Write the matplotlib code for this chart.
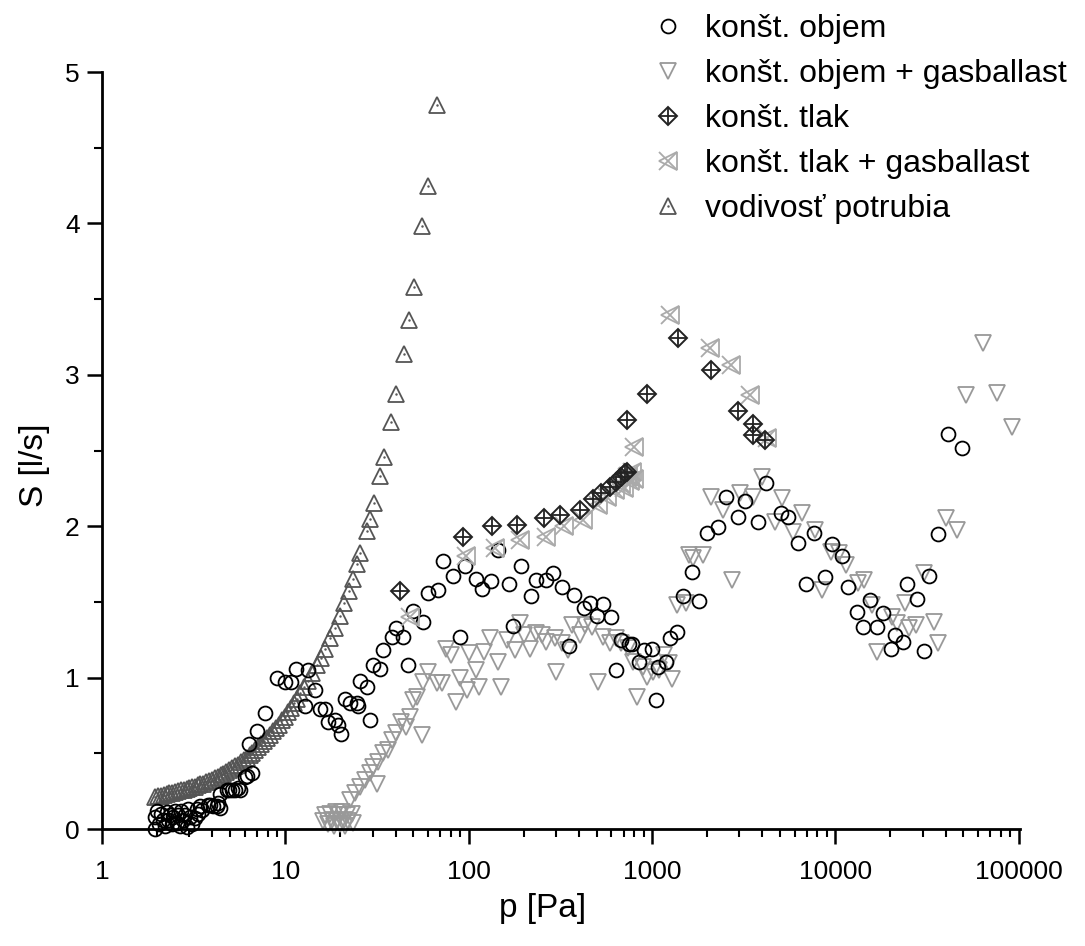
import numpy as np
import matplotlib
matplotlib.use('Agg')
import matplotlib.pyplot as plt
from matplotlib.ticker import FixedLocator, FixedFormatter, LogLocator, NullFormatter, MultipleLocator

plt.rcParams['font.family'] = ['Liberation Sans', 'DejaVu Sans']

# konšt. objem (circles)
p_obj = [1.95, 1.95, 2.0, 2.05, 2.1, 2.16, 2.2, 2.25, 2.3, 2.35, 2.4, 2.45, 2.5, 2.55, 2.6,
         2.66, 2.7, 2.78, 2.85, 2.9, 2.95, 3.02, 3.1, 3.22, 3.3, 3.35, 3.42, 3.5, 3.8, 3.88,
         4.04, 4.22, 4.3, 4.4, 4.4, 4.78, 4.9, 5.1, 5.3, 5.55, 5.66, 6.02, 6.15, 6.35, 6.55,
         7.05, 7.75, 8.96, 9.97, 10.8, 11.5, 12.8, 13.3, 14.6, 15.5, 16.5, 17.1, 18.7, 19.4,
         20.1, 21.1, 22.5, 24.5, 25.0, 25.5, 27.8, 29.0, 30.1, 32.8, 34.2, 38.0, 40.4, 44.0,
         46.9, 49.9, 56.5, 60.3, 68.2, 72.7, 82.4, 89.6, 95, 110, 119, 133, 145, 166, 175,
         193, 218, 233, 265, 289, 325, 353, 375, 424, 458, 502, 540, 600, 636, 681, 749,
         780, 855, 910, 1000, 1050, 1080, 1190, 1250, 1370, 1470, 1660, 1800, 1990, 2300,
         2530, 2960, 3230, 3800, 4200, 5050, 5500, 6290, 6940, 7700, 8820, 9600, 10900,
         11800, 13100, 14200, 15500, 17000, 18300, 20200, 21300, 23300, 24600, 28000, 30600,
         32300, 36400, 41300, 49200]
S_obj = [0.00, 0.08, 0.12, 0.03, 0.10, 0.06, 0.02, 0.11, 0.06, 0.09, 0.03, 0.08, 0.12, 0.04, 0.09,
         0.02, 0.12, 0.06, 0.09, 0.015, 0.13, 0.08, 0.03, 0.07, 0.13, 0.10, 0.15, 0.125, 0.16, 0.16,
         0.15, 0.15, 0.17, 0.14, 0.23, 0.26, 0.26, 0.26, 0.26, 0.27, 0.26, 0.345, 0.35, 0.56, 0.37,
         0.65, 0.764, 1.0, 0.97, 0.97, 1.06, 0.81, 1.05, 0.92, 0.79, 0.79, 0.71, 0.72, 0.69,
         0.63, 0.86, 0.83, 0.83, 0.81, 0.98, 0.94, 0.72, 1.08, 1.06, 1.18, 1.27, 1.33, 1.27,
         1.08, 1.44, 1.37, 1.56, 1.58, 1.77, 1.67, 1.27, 1.74, 1.65, 1.585, 1.64, 1.84, 1.62, 1.34,
         1.74, 1.54, 1.645, 1.645, 1.69, 1.6, 1.21, 1.546, 1.46, 1.495, 1.41, 1.486, 1.40, 1.05, 1.25, 1.22,
         1.22, 1.105, 1.18, 1.187, 0.852, 1.072, 1.1, 1.26, 1.30, 1.54, 1.70, 1.508, 1.953, 1.997,
         2.195, 2.063, 2.166, 2.03, 2.283, 2.085, 2.063, 1.887, 1.618, 1.957, 1.667, 1.88, 1.805,
         1.596, 1.435, 1.332, 1.513, 1.336, 1.425, 1.189, 1.281, 1.237, 1.618, 1.519, 1.176,
         1.671, 1.947, 2.607, 2.519]

# konšt. objem + gasballast (down triangles)
p_obj_gb = [16.0, 16.5, 17.0, 17.5, 18.0, 18.4, 18.8, 19.2, 19.6, 20.0, 20.4, 20.8, 21.2, 21.6,
            22.0, 22.5, 23.0, 23.4, 24.0, 25.5, 27.1, 29, 30.1, 31.5, 32, 34.2, 36.4, 38, 40.4,
            43, 45.8, 47.6, 49.9, 52, 55.4, 56.6, 60.3, 66.9, 71.2, 75, 80, 85.3, 90, 97.8,
            100.9, 110, 114, 121, 131, 144, 151, 163, 178, 190, 200, 217, 234, 250, 265, 295,
            299, 325, 350, 365, 405, 433, 470, 509, 543, 589, 640, 682, 740, 790, 825, 897, 935,
            1010, 1100, 1170, 1240, 1290, 1365, 1540, 1590, 1680, 1900, 2100, 2450, 2740, 3030,
            3570, 4000, 4700, 5100, 5900, 6600, 7800, 8500, 9500, 10500, 11400, 13400, 14300,
            15800, 17000, 20300, 21800, 24000, 25400, 27700, 30500, 34500, 36400, 40300, 46000,
            51500, 64100, 76600, 92100]
S_obj_gb = [0.05, 0.09, 0.03, 0.10, 0.06, 0.02, 0.11, 0.05, 0.09, 0.03, 0.11, 0.06, 0.02, 0.09,
            0.05, 0.19, 0.10, 0.04, 0.236, 0.28, 0.324, 0.368, 0.41, 0.30, 0.445, 0.5, 0.52, 0.588, 0.632,
            0.709, 0.676, 0.742, 0.852, 0.874, 0.62, 0.973, 1.04, 0.962, 0.962, 1.19, 1.15, 0.84, 0.995, 0.918,
            1.16, 1.05, 0.94, 1.17, 1.26, 1.105, 0.94, 1.248, 1.182, 1.359, 1.28, 1.19, 1.293, 1.28, 1.237, 1.26,
            1.04, 1.227, 1.182, 1.347, 1.28, 1.347, 1.336, 0.973, 1.27, 1.227, 1.26, 1.227, 1.194, 1.105, 0.874, 1.072, 1.006,
            1.039, 1.05, 1.149, 1.094, 0.99, 1.48, 1.49, 1.81, 1.788, 1.81, 2.195, 2.107, 1.645, 2.217,
            2.195, 2.327, 2.03, 2.184, 1.964, 2.085, 1.975, 1.579, 1.832, 1.821, 1.744, 1.623, 1.645,
            1.48, 1.171, 1.402, 1.359, 1.49, 1.326, 1.347, 1.689, 1.369, 1.227, 2.052, 1.975,
            2.867, 3.208, 2.878, 2.657]

# konšt. tlak (diamonds with cross)
p_tlak = [42.2, 93.5, 134, 184, 258, 317, 403, 475, 530, 590, 640, 680, 710, 730, 735, 945,
          1390, 2100, 2960, 3570, 3550, 4130]
S_tlak = [1.574, 1.93, 2.0, 2.008, 2.052, 2.074, 2.107, 2.178, 2.217, 2.261, 2.294, 2.327, 2.349,
          2.36, 2.70, 2.871, 3.241, 3.03, 2.761, 2.673, 2.60, 2.57]

# konšt. tlak + gasballast
p_tlak_gb = [47.8, 97, 139, 190, 265, 330, 420, 510, 570, 630, 680, 700, 730, 745, 760, 780,
             800, 795, 1260, 2080, 2690, 3450, 4230]
S_tlak_gb = [1.402, 1.80, 1.854, 1.909, 1.93, 2.0, 2.04, 2.14, 2.195, 2.24, 2.28, 2.25, 2.327,
             2.33, 2.30, 2.36, 2.31, 2.525, 3.395, 3.175, 3.065, 2.867, 2.58]

# vodivosť potrubia (up triangles)
p_vod = [1.95, 2.02, 2.1, 2.17, 2.25, 2.33, 2.41, 2.5, 2.6, 2.7, 2.8, 2.9, 3.0, 3.1, 3.2, 3.32,
         3.44, 3.56, 3.7, 3.84, 3.98, 4.13, 4.28, 4.44, 4.6, 4.77, 4.95, 5.13, 5.32, 5.52, 5.72,
         5.93, 6.15, 6.38, 6.62, 6.86, 7.12, 7.38, 7.66, 7.94, 8.24, 8.55, 8.87, 9.2, 9.55, 9.9,
         10.3, 10.7, 11.1, 11.6, 12.1, 12.7, 13.3, 14.0, 14.8, 15.6, 16.5, 17.5, 18.6, 19.8,
         21.0, 22.2, 23.5, 24.7, 25.7, 27.8, 28.9, 30.3, 32.9, 34.5, 37.8, 40.4, 44.4, 47.5,
         50.6, 56.0, 59.7, 67.3]
S_vod = [0.21, 0.215, 0.22, 0.225, 0.23, 0.235, 0.24, 0.245, 0.25, 0.255, 0.26, 0.265, 0.27, 0.275,
         0.28, 0.29, 0.295, 0.30, 0.31, 0.315, 0.325, 0.335, 0.345, 0.355, 0.365, 0.375, 0.39,
         0.40, 0.415, 0.425, 0.44, 0.455, 0.47, 0.49, 0.505, 0.52, 0.54, 0.56, 0.58, 0.60,
         0.62, 0.645, 0.67, 0.69, 0.72, 0.74, 0.77, 0.80, 0.83, 0.86, 0.90, 0.94, 0.98, 1.03,
         1.08, 1.13, 1.19, 1.26, 1.33, 1.41, 1.49, 1.57, 1.65, 1.75, 1.82, 1.97, 2.05, 2.15,
         2.33, 2.46, 2.69, 2.87, 3.14, 3.36, 3.58, 3.98, 4.25, 4.78]

labels = ['konšt. objem', 'konšt. objem + gasballast', 'konšt. tlak',
          'konšt. tlak + gasballast', 'vodivosť potrubia']

fig = plt.figure(figsize=(10.85, 9.46), dpi=100)
ax = fig.add_axes([102 / 1085, 117 / 946, 918 / 1085, 757 / 946])

kw = dict(linestyle='none', clip_on=False, mfc='none')
h_vod = ax.plot(p_vod, S_vod, marker='^', ms=12, mec='#555555', mew=1.3, **kw)[0]
h_vod_dot = ax.plot(p_vod, S_vod, marker='.', ms=1.5, mec='#555555', **kw)[0]
h_obj_gb = ax.plot(p_obj_gb, S_obj_gb, marker='v', ms=12, mec='#999999', mew=1.3, **kw)[0]
h_obj = ax.plot(p_obj, S_obj, marker='o', ms=10, mec='black', mew=1.3, **kw)[0]
h_tgb1 = ax.plot(p_tlak_gb, S_tlak_gb, marker='<', ms=13, mec='#aaaaaa', mew=1.3, **kw)[0]
h_tgb2 = ax.plot(p_tlak_gb, S_tlak_gb, marker='x', ms=13, mec='#aaaaaa', mew=1.3, **kw)[0]
h_t1 = ax.plot(p_tlak, S_tlak, marker='D', ms=9, mec='#222222', mew=1.4, **kw)[0]
h_t2 = ax.plot(p_tlak, S_tlak, marker='+', ms=12.5, mec='#222222', mew=1.3, **kw)[0]

ax.set_xscale('log')
ax.set_xlim(1, 1.019e5)
ax.set_ylim(0, 5)

xt = [1, 10, 100, 1000, 10000, 100000]
ax.xaxis.set_major_locator(FixedLocator(xt))
ax.xaxis.set_major_formatter(FixedFormatter([str(v) for v in xt]))
ax.xaxis.set_minor_locator(LogLocator(base=10, subs=np.arange(2, 10), numticks=20))
ax.xaxis.set_minor_formatter(NullFormatter())
ax.yaxis.set_major_locator(MultipleLocator(1))
ax.yaxis.set_minor_locator(MultipleLocator(0.5))

for side in ['top', 'right']:
    ax.spines[side].set_visible(False)
for side in ['left', 'bottom']:
    ax.spines[side].set_linewidth(2.0)
ax.tick_params(which='major', direction='out', length=11, width=1.8, labelsize=19, pad=5)
ax.tick_params(which='minor', direction='out', length=6, width=1.5)
ax.tick_params(axis='x', which='major', pad=11)

ax.set_xlabel('p [Pa]', fontsize=24)
ax.xaxis.set_label_coords(0.48, -0.085)
ax.set_ylabel('S [l/s]', fontsize=24)
ax.yaxis.set_label_coords(-0.057, 0.48)

handles = [h_obj, h_obj_gb, (h_t1, h_t2), (h_tgb1, h_tgb2), (h_vod, h_vod_dot)]
fig.legend(handles, labels, loc='upper left', bbox_to_anchor=(0.601, 0.985),
           frameon=False, fontsize=23, handlelength=1.0, handletextpad=0.65,
           labelspacing=0.47, borderpad=0, borderaxespad=0)

fig.savefig('out.png', dpi=100)
